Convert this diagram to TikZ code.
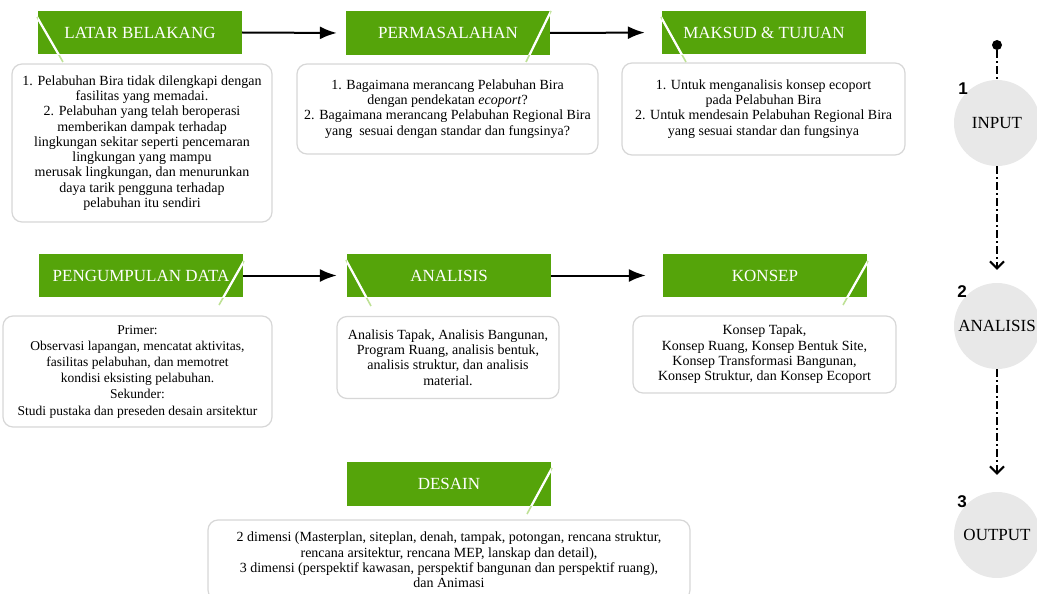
\documentclass[tikz,border=0pt]{standalone}
\usepackage{fontspec}
\setmainfont{Liberation Serif}
\newfontfamily\numfont{Liberation Sans}
\usetikzlibrary{arrows.meta}
\definecolor{hgreen}{RGB}{85,164,10}
\definecolor{slashgreen}{RGB}{190,225,150}
\definecolor{boxgray}{RGB}{215,215,215}
\definecolor{circgray}{RGB}{232,232,232}
\tikzset{
 hdr/.style={fill=hgreen, text=white, minimum width=204pt, minimum height=43.5pt, inner sep=0pt, font=\fontsize{17}{20}\selectfont},
 txtbox/.style={draw=boxgray, line width=1.2pt, rounded corners=10pt, fill=white, align=center, inner sep=0pt, font=\fontsize{14}{15.25}\selectfont},
 cut/.style={draw=slashgreen, line width=1.6pt},
 cutin/.style={draw=white, line width=2.2pt},
 flow/.style={line width=2pt, -{Latex[length=17pt,width=13pt]}},
 stagec/.style={circle, fill=circgray, minimum size=86pt, inner sep=0pt, font=\fontsize{17}{20}\selectfont},
 dd/.style={line width=2pt, dash pattern=on 8pt off 3pt on 2pt off 3pt},
 ddarrow/.style={dd, -{Straight Barb[length=7pt,width=14pt,line width=2pt]}},
 num/.style={font=\numfont\bfseries\fontsize{17}{20}\selectfont, inner sep=0pt}
}
\newcommand\hdrcut[3]{%
 \draw[cut] #2 -- #3;
 \begin{scope}
 \clip (#1.south west) rectangle (#1.north east);
 \draw[cutin] #2 -- #3;
 \end{scope}}
\begin{document}
\begin{tikzpicture}[x=1pt,y=-1pt]
\useasboundingbox (0,0) rectangle (1037,594);
\clip (0,0) rectangle (1037,594);

% text boxes
\node[txtbox, minimum width=260pt, minimum height=158pt] (latarbox) at (142,143) {1. Pelabuhan Bira tidak dilengkapi dengan\\ fasilitas yang memadai.\\ 2. Pelabuhan yang telah beroperasi\\ memberikan dampak terhadap\\ lingkungan sekitar seperti pencemaran\\ lingkungan yang mampu\\ merusak lingkungan, dan menurunkan\\ daya tarik pengguna terhadap\\ pelabuhan itu sendiri};
\node[txtbox, minimum width=301pt, minimum height=90pt] (permbox) at (447.5,109) {1. Bagaimana merancang Pelabuhan Bira\\ dengan pendekatan \textit{ecoport}?\\ 2. Bagaimana merancang Pelabuhan Regional Bira\\ yang\ \ sesuai dengan standar dan fungsinya?};
\node[txtbox, minimum width=283pt, minimum height=92pt] (maksudbox) at (763.5,109) {1. Untuk menganalisis konsep ecoport\\ pada Pelabuhan Bira\\ 2. Untuk mendesain Pelabuhan Regional Bira\\ yang sesuai standar dan fungsinya};
\node[txtbox, minimum width=269pt, minimum height=111pt, font=\fontsize{13.5}{16.2}\selectfont] (pengbox) at (137.5,371.5) {Primer:\\ Observasi lapangan, mencatat aktivitas,\\ fasilitas pelabuhan, dan memotret\\ kondisi eksisting pelabuhan.\\ Sekunder:\\ Studi pustaka dan preseden desain arsitektur};
\node[txtbox, minimum width=222pt, minimum height=82pt] (anbox) at (448,357.5) {Analisis Tapak, Analisis Bangunan,\\ Program Ruang, analisis bentuk,\\ analisis struktur, dan analisis\\ material.};
\node[txtbox, minimum width=263pt, minimum height=77pt] (konbox) at (764.5,354.5) {Konsep Tapak,\\ Konsep Ruang, Konsep Bentuk Site,\\ Konsep Transformasi Bangunan,\\ Konsep Struktur, dan Konsep Ecoport};
\node[txtbox, minimum width=482pt, minimum height=80pt] (desbox) at (449,560) {2 dimensi (Masterplan, siteplan, denah, tampak, potongan, rencana struktur,\\ rencana arsitektur, rencana MEP, lanskap dan detail),\\ 3 dimensi (perspektif kawasan, perspektif bangunan dan perspektif ruang),\\ dan Animasi};

% headers
\node[hdr] (latar) at (140,32.5) {LATAR BELAKANG};
\node[hdr] (perm) at (448,33) {PERMASALAHAN};
\node[hdr] (maksud) at (764,32.5) {MAKSUD \& TUJUAN};
\node[hdr] (peng) at (141,275.5) {PENGUMPULAN DATA};
\node[hdr] (anal) at (449,275.5) {ANALISIS};
\node[hdr] (kons) at (765,275.5) {KONSEP};
\node[hdr] (des) at (449,484) {DESAIN};

% slashes
\hdrcut{latar}{(37,17)}{(63,62)}
\hdrcut{perm}{(551,11)}{(526,62)}
\hdrcut{maksud}{(661,17)}{(686,62)}
\hdrcut{peng}{(244,261)}{(219,305)}
\hdrcut{anal}{(346,260)}{(371,306)}
\hdrcut{kons}{(868,261)}{(843,305)}
\hdrcut{des}{(552,468)}{(527,514)}

% flow arrows
\draw[flow, shorten >=9pt] (latar.east) -- (perm.west);
\draw[flow, shorten >=17pt] (perm.east) -- (maksud.west);
\draw[flow, shorten >=10pt] (peng.east) -- (anal.west);
\draw[flow, shorten >=17pt] (anal.east) -- (kons.west);

% right column
\node[circle, fill=black, minimum size=10pt, inner sep=0pt] (start) at (997,45) {};
\node[stagec] (sin) at (997,123) {INPUT};
\node[stagec] (san) at (997,326) {ANALISIS};
\node[stagec] (sout) at (997,535) {OUTPUT};
\draw[dd] (start) -- (sin);
\draw[ddarrow, shorten >=13pt] (sin) -- (san);
\draw[ddarrow, shorten >=17pt] (san) -- (sout);
\node[num] (n1) at (963,89) {1};
\node[num] (n2) at (962,292) {2};
\node[num] (n3) at (962,502) {3};
\end{tikzpicture}
\end{document}
